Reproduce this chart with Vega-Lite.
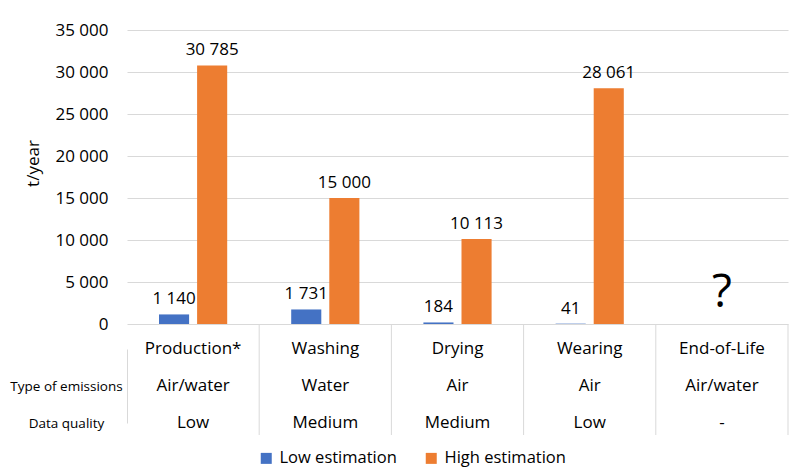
{
  "$schema": "https://vega.github.io/schema/vega-lite/v6.json",
  "padding": {"left": 9, "top": 21, "right": 2, "bottom": 2},
  "autosize": {"type": "pad"},
  "spacing": 0,
  "bounds": "flush",
  "config": {
    "font": "Open Sans",
    "locale": {"number": {"decimal": ".", "thousands": " ", "grouping": [3], "currency": ["", ""]}},
    "view": {"stroke": null},
    "text": {"color": "#000000", "font": "Open Sans"}
  },
  "datasets": {
    "emissions": [
      {"stage": "Production*", "series": "Low estimation", "value": 1140},
      {"stage": "Production*", "series": "High estimation", "value": 30785},
      {"stage": "Washing", "series": "Low estimation", "value": 1731},
      {"stage": "Washing", "series": "High estimation", "value": 15000},
      {"stage": "Drying", "series": "Low estimation", "value": 184},
      {"stage": "Drying", "series": "High estimation", "value": 10113},
      {"stage": "Wearing", "series": "Low estimation", "value": 41},
      {"stage": "Wearing", "series": "High estimation", "value": 28061}
    ],
    "notes": [
      {"stage": "End-of-Life", "note": "?"}
    ],
    "table": [
      {"stage": "Production*", "row": "Stage", "text": "Production*"},
      {"stage": "Washing", "row": "Stage", "text": "Washing"},
      {"stage": "Drying", "row": "Stage", "text": "Drying"},
      {"stage": "Wearing", "row": "Stage", "text": "Wearing"},
      {"stage": "End-of-Life", "row": "Stage", "text": "End-of-Life"},
      {"stage": "Production*", "row": "Type of emissions", "text": "Air/water"},
      {"stage": "Washing", "row": "Type of emissions", "text": "Water"},
      {"stage": "Drying", "row": "Type of emissions", "text": "Air"},
      {"stage": "Wearing", "row": "Type of emissions", "text": "Air"},
      {"stage": "End-of-Life", "row": "Type of emissions", "text": "Air/water"},
      {"stage": "Production*", "row": "Data quality", "text": "Low"},
      {"stage": "Washing", "row": "Data quality", "text": "Medium"},
      {"stage": "Drying", "row": "Data quality", "text": "Medium"},
      {"stage": "Wearing", "row": "Data quality", "text": "Low"},
      {"stage": "End-of-Life", "row": "Data quality", "text": "-"}
    ]
  },
  "vconcat": [
    {
      "width": 661,
      "height": 294,
      "layer": [
        {
          "data": {"name": "emissions"},
          "mark": {"type": "bar"},
          "encoding": {
            "x": {"field": "stage", "type": "nominal", "scale": {"domain": ["Production*", "Washing", "Drying", "Wearing", "End-of-Life"], "paddingInner": 0, "paddingOuter": 0}, "axis": null},
            "xOffset": {"field": "series", "type": "nominal", "scale": {"domain": ["Low estimation", "High estimation"], "paddingInner": 0.21, "paddingOuter": 0.84}},
            "y": {"field": "value", "type": "quantitative", "scale": {"domain": [0, 35000]},
              "axis": {"title": "t/year", "titleY": 133, "values": [0, 5000, 10000, 15000, 20000, 25000, 30000, 35000], "format": ",.0f", "domain": false, "ticks": false, "labelPadding": 19, "labelFontSize": 17, "labelColor": "#000000", "labelFont": "Open Sans", "gridColor": "#d9d9d9", "gridWidth": 1, "titleFontSize": 17, "titleFontWeight": "normal", "titleColor": "#000000", "titleFont": "Open Sans", "titlePadding": 12}},
            "color": {"field": "series", "type": "nominal", "scale": {"domain": ["Low estimation", "High estimation"], "range": ["#4472C4", "#ED7D31"]},
              "legend": {"title": null, "orient": "none", "legendX": 131, "legendY": 420, "direction": "horizontal", "symbolType": "square", "symbolSize": 121, "symbolStrokeWidth": 0, "labelFontSize": 16.5, "labelFont": "Open Sans", "labelColor": "#000000", "columnPadding": 26, "labelOffset": 5}}
          }
        },
        {
          "data": {"name": "emissions"},
          "mark": {"type": "text", "baseline": "alphabetic", "dy": -10, "fontSize": 17},
          "encoding": {
            "x": {"field": "stage", "type": "nominal"},
            "xOffset": {"field": "series", "type": "nominal"},
            "y": {"field": "value", "type": "quantitative"},
            "text": {"field": "value", "type": "quantitative", "format": ",.0f"}
          }
        },
        {
          "data": {"name": "notes"},
          "mark": {"type": "text", "baseline": "middle", "fontSize": 46},
          "encoding": {
            "x": {"field": "stage", "type": "nominal"},
            "y": {"datum": 3700},
            "text": {"field": "note"}
          }
        }
      ]
    },
    {
      "width": 661,
      "height": 111,
      "data": {"name": "table"},
      "layer": [
        {
          "mark": {"type": "text", "baseline": "middle", "fontSize": 17},
          "encoding": {
            "x": {"field": "stage", "type": "nominal", "scale": {"domain": ["Production*", "Washing", "Drying", "Wearing", "End-of-Life"], "paddingInner": 0, "paddingOuter": 0}, "axis": null},
            "y": {"field": "row", "type": "nominal", "scale": {"type": "point", "domain": ["Stage", "Type of emissions", "Data quality"], "range": [25, 99], "padding": 0},
              "axis": {"title": null, "labelExpr": "datum.value == 'Stage' ? '' : datum.value", "domain": true, "domainColor": "#d9d9d9", "ticks": false, "grid": false, "labelAlign": "center", "labelPadding": 61, "labelFontSize": 13.5, "labelFont": "Open Sans", "labelColor": "#000000"}},
            "text": {"field": "text"}
          }
        },
        {
          "transform": [{"filter": "datum.row == 'Stage'"}],
          "mark": {"type": "rule", "color": "#d9d9d9", "strokeWidth": 1},
          "encoding": {
            "x": {"field": "stage", "type": "nominal", "bandPosition": 1}
          }
        }
      ]
    }
  ]
}
